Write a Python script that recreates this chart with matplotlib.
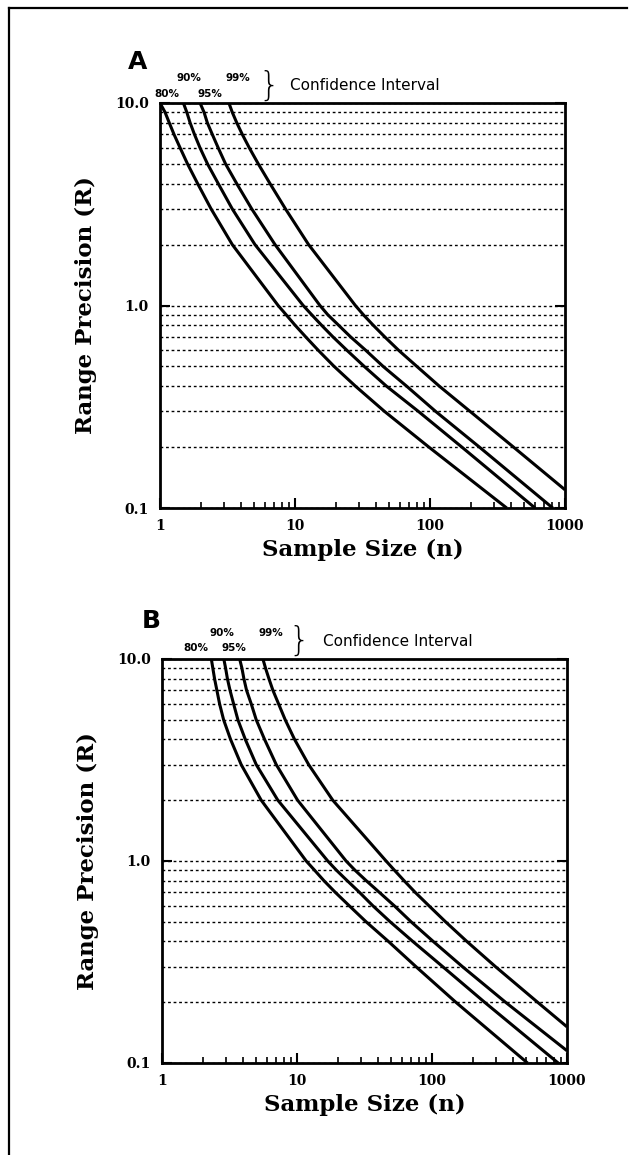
import matplotlib.pyplot as plt
from matplotlib.lines import Line2D
from matplotlib.ticker import LogLocator, NullFormatter

r_grid = [10, 9, 8, 7, 6, 5, 4, 3, 2, 1, 0.9, 0.8, 0.7, 0.6, 0.5, 0.4, 0.3, 0.2, 0.1]

# Panel A
a_n80 = [1.0, 1.09, 1.17, 1.27, 1.41, 1.60, 1.90, 2.39, 3.43, 7.5, 8.6, 10.0, 12.0, 14.9, 19.5, 28, 46, 98, 370]
a_n90 = [1.49, 1.58, 1.67, 1.80, 1.98, 2.25, 2.70, 3.43, 5.05, 11.5, 13.3, 15.7, 19.1, 24.3, 32.6, 47.5, 82, 172, 600]
a_n95 = [1.98, 2.12, 2.24, 2.44, 2.70, 3.06, 3.70, 4.78, 7.11, 15.3, 17.5, 21, 25.8, 33.5, 45, 67, 110, 232, 811]
a_n99 = [3.24, 3.43, 3.70, 4.07, 4.59, 5.35, 6.53, 8.5, 12.6, 28, 32.1, 37.9, 46.2, 58.7, 80, 117, 198, 415, 1000]
a_r99 = [10, 9, 8, 7, 6, 5, 4, 3, 2, 1, 0.9, 0.8, 0.7, 0.6, 0.5, 0.4, 0.3, 0.2, 0.123]

# Panel B
b_n80 = [2.32, 2.38, 2.45, 2.55, 2.67, 2.86, 3.22, 3.86, 5.43, 11.7, 13.5, 15.8, 19.2, 24.4, 32.5, 47.5, 76, 150, 510]
b_n90 = [2.87, 2.96, 3.05, 3.19, 3.39, 3.65, 4.14, 4.99, 7.21, 16.9, 19.6, 23.5, 29, 36.5, 49, 72, 120, 245, 860]
b_n95 = [3.76, 3.91, 4.04, 4.23, 4.58, 4.99, 5.75, 7.02, 10.1, 23.1, 26.9, 32.5, 40.7, 52.6, 70, 102, 168, 350, 1000]
b_r95 = [10, 9, 8, 7, 6, 5, 4, 3, 2, 1, 0.9, 0.8, 0.7, 0.6, 0.5, 0.4, 0.3, 0.2, 0.115]
b_n99 = [5.59, 5.85, 6.19, 6.63, 7.30, 8.18, 9.59, 12.2, 18.4, 45.7, 52.7, 62, 75, 95, 126, 181, 295, 605, 1000]
b_r99 = [10, 9, 8, 7, 6, 5, 4, 3, 2, 1, 0.9, 0.8, 0.7, 0.6, 0.5, 0.4, 0.3, 0.2, 0.151]

levels = ["80%", "90%", "95%", "99%"]
x_ticks = [1, 10, 100, 1000]
x_ticklabels = ["1", "10", "100", "1000"]
y_ticks = [0.1, 1, 10]
y_ticklabels = ["0.1", "1.0", "10.0"]

W, H = 637, 1155
fig = plt.figure(figsize=(W / 100, H / 100), dpi=100)

serif = "DejaVu Serif"


def px(x, y):
    # pixel position -> figure fraction
    return x / W, 1 - y / H


def panel(rect, curves, letter, lab_pos, letter_pos, brace_pos, conf_pos):
    ax = fig.add_axes(rect)
    ax.set_xscale("log")
    ax.set_yscale("log")
    ax.set_xlim(1, 1000)
    ax.set_ylim(0.1, 10)

    for n, r in curves:
        ax.plot(n, r, color="black", lw=2.2, solid_capstyle="butt",
                solid_joinstyle="round", zorder=3)

    # dotted horizontal grid
    ax.yaxis.set_minor_locator(LogLocator(base=10, subs=range(2, 10)))
    ax.yaxis.set_minor_formatter(NullFormatter())
    ax.grid(True, which="both", axis="y", color="black", lw=1.0,
            linestyle=(0, (2.0, 2.0)), zorder=1)
    ax.tick_params(axis="y", which="minor", length=0)

    ax.set_yticks(y_ticks)
    ax.set_yticklabels(y_ticklabels)
    ax.set_xticks(x_ticks)
    ax.set_xticklabels(x_ticklabels)
    ax.xaxis.set_minor_locator(LogLocator(base=10, subs=range(2, 10)))
    ax.xaxis.set_minor_formatter(NullFormatter())
    ax.tick_params(axis="x", which="major", direction="in", length=7, width=1.5,
                   top=False, pad=8)
    ax.tick_params(axis="x", which="minor", direction="in", length=4, width=1.2,
                   top=False)
    ax.tick_params(axis="y", which="major", direction="in", length=7, width=1.5,
                   right=True, pad=8)
    for lab in ax.get_xticklabels() + ax.get_yticklabels():
        lab.set_fontfamily(serif)
        lab.set_fontweight("bold")
        lab.set_fontsize(10)

    for s in ax.spines.values():
        s.set_linewidth(2)

    ax.set_xlabel("Sample Size (n)", fontfamily=serif, fontweight="bold",
                  fontsize=16.5, labelpad=4)
    ax.set_ylabel("Range Precision (R)", fontfamily=serif, fontweight="bold",
                  fontsize=16.5, labelpad=13)

    # annotations above the panel
    fx, fy = px(*letter_pos)
    fig.text(fx, fy, letter, fontsize=18, fontweight="heavy", family="DejaVu Sans",
             ha="center", va="center")
    for lev, (x, y) in zip(levels, lab_pos):
        fx, fy = px(x, y)
        fig.text(fx, fy, lev, fontsize=7.5, fontweight="bold", family="DejaVu Sans",
                 ha="center", va="center")
    fx, fy = px(*brace_pos)
    fig.text(fx, fy, "}", fontsize=24, fontweight="light", family="DejaVu Sans",
             ha="center", va="center")
    fx, fy = px(*conf_pos)
    fig.text(fx, fy, "Confidence Interval", fontsize=11, family="DejaVu Sans",
             fontweight="medium", ha="left", va="center")
    return ax


panel([160 / W, 1 - 508 / H, 405 / W, 405 / H],
      [(a_n80, r_grid), (a_n90, r_grid), (a_n95, r_grid), (a_n99, a_r99)],
      "A",
      [(167, 94), (189, 78), (210, 94), (238, 78)],
      (138, 62), (269, 86), (290, 85))

panel([162 / W, 1 - 1063 / H, 405 / W, 404 / H],
      [(b_n80, r_grid), (b_n90, r_grid), (b_n95, b_r95), (b_n99, b_r99)],
      "B",
      [(196, 648), (222, 633), (234, 648), (271, 633)],
      (151, 621), (299, 641), (323, 642))

# outer frame (left and top edges)
fig.add_artist(Line2D([9 / W, 9 / W], [0, 1 - 8 / H], color="black", lw=1.6,
                      transform=fig.transFigure))
fig.add_artist(Line2D([9 / W, 627 / W], [1 - 8 / H, 1 - 8 / H], color="black", lw=1.6,
                      transform=fig.transFigure))

fig.savefig("out.png", dpi=100, facecolor="white")
